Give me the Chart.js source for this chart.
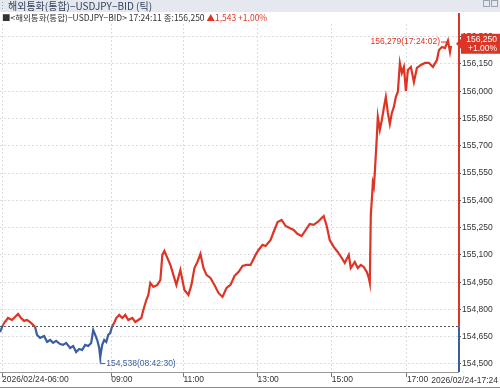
<!DOCTYPE html>
<html>
<head>
<meta charset="utf-8">
<script src="https://cdn.jsdelivr.net/npm/chart.js@4.4.1/dist/chart.umd.min.js"></script>
<style>
  html, body { margin: 0; padding: 0; background: #fff; }
  #wrap { width: 500px; height: 388px; position: relative; }
</style>
</head>
<body>
<div id="wrap"><canvas id="chart"></canvas></div>
<script>
// tick sequence number (x) and price
const tickNo = [0,3,5,8,12,15,18,21,24,27,30,33,35,37,40,44,47,50,53,56,60,63,66,70,73,76,79,82,85,88,91,93,95,97,99,100,102,104,106,108,110,112,114,116,119,122,125,128,132,135,138,141,143,146,148,150,153,157,160,162,164,167,170,173,176,180,184,188,191,194,197,200,203,206,210,214,218,222,226,230,234,238,242,246,250,255,258,262,265,270,273,277,281,285,289,293,297,301,305,309,313,317,321,323,326,329,333,337,341,344,348,350,354,357,360,363,366,368,369,370,371,372,373,374,376,377,379,381,383,385,387,389,391,393,395,397,399,401,403,405,407,410,413,416,420,424,428,432,436,438,441,444,447,449,450];
const prices = [154.676,154.715,154.731,154.753,154.742,154.759,154.775,154.753,154.737,154.742,154.731,154.715,154.704,154.660,154.643,154.654,154.621,154.632,154.616,154.627,154.610,154.605,154.616,154.588,154.599,154.566,154.583,154.577,154.605,154.599,154.616,154.687,154.660,154.632,154.588,154.538,154.605,154.632,154.621,154.660,154.671,154.709,154.726,154.753,154.770,154.753,154.770,154.742,154.753,154.731,154.742,154.753,154.797,154.852,154.880,154.946,154.924,154.935,154.962,155.100,155.122,155.083,155.045,154.990,154.935,155.017,154.907,154.880,154.935,155.028,155.061,155.105,155.028,154.990,154.973,154.935,154.891,154.869,154.918,154.935,154.984,155.006,155.039,155.045,155.045,155.100,155.127,155.155,155.149,155.182,155.226,155.281,155.292,155.259,155.248,155.237,155.215,155.204,155.237,155.270,155.265,155.281,155.303,155.314,155.259,155.182,155.144,155.116,155.083,155.056,155.100,155.028,155.061,155.028,155.045,155.034,155.006,154.973,154.946,155.320,155.402,155.496,155.474,155.551,155.749,155.859,155.787,155.842,155.908,155.969,155.881,155.820,155.881,155.914,155.969,155.996,156.156,156.101,156.134,156.002,156.117,156.134,156.051,156.128,156.145,156.156,156.156,156.134,156.172,156.227,156.244,156.238,156.279,156.216,156.250];

const basePrice = 154.707;   // previous close
const lastPrice = 156.250;
const change = '1,543';
const changePct = '+1.00%';
const highLabel = '156,279(17:24:02)';
const lowLabel = '154,538(08:42:30)';

const priceTicks = [154.5,154.65,154.8,154.95,155.1,155.25,155.4,155.55,155.7,155.85,156.0,156.15,156.3];
const timeTickNo = [2,111,183,257,331,406];
const timeLabels = ['2026/02/24-06:00','09:00','11:00','13:00','15:00','17:00'];
const endLabel = '2026/02/24-17:24';

const titleText = '해외통화(통합)−USDJPY−BID (틱)';
const infoText = '■<해외통화(통합)−USDJPY−BID> 17:24:11 종:156,250 ';

const RED = '#dd3525';
const BLUE = '#3a5e9f';
const numFont = '"Liberation Sans", sans-serif';
const krFont = '"Noto Sans CJK KR", sans-serif';

const fmt = v => v.toFixed(3).replace('.', ',');

const points = tickNo.map((x, i) => ({x: x, y: prices[i]}));

const deco = {
  id: 'deco',
  beforeDatasetsDraw(chart) {
    const {ctx, chartArea: a, scales: {y}} = chart;
    const by = Math.round(y.getPixelForValue(basePrice)) + 0.5;
    ctx.save();
    ctx.strokeStyle = '#555';
    ctx.lineWidth = 1;
    ctx.setLineDash([2, 2]);
    ctx.beginPath();
    ctx.moveTo(a.left, by);
    ctx.lineTo(a.right, by);
    ctx.stroke();
    ctx.restore();
  },
  afterDraw(chart) {
    const {ctx, chartArea: a, scales: {x, y}} = chart;
    ctx.save();

    // right axis line, red above previous close, blue below
    const by = y.getPixelForValue(basePrice);
    ctx.lineWidth = 2;
    ctx.strokeStyle = RED;
    ctx.beginPath(); ctx.moveTo(a.right + 1, 13); ctx.lineTo(a.right + 1, by); ctx.stroke();
    ctx.strokeStyle = BLUE;
    ctx.beginPath(); ctx.moveTo(a.right + 1, by); ctx.lineTo(a.right + 1, a.bottom); ctx.stroke();

    // high / low markers
    let hi = 0, lo = 0;
    prices.forEach((p, i) => { if (p > prices[hi]) hi = i; if (p < prices[lo]) lo = i; });
    const hx = x.getPixelForValue(tickNo[hi]), hy = y.getPixelForValue(prices[hi]);
    ctx.lineWidth = 1;
    ctx.strokeStyle = RED;
    ctx.beginPath(); ctx.moveTo(hx - 7, hy + 1.5); ctx.lineTo(hx, hy + 1.5); ctx.lineTo(hx, hy + 4); ctx.stroke();
    ctx.fillStyle = RED;
    ctx.font = '8.5px ' + numFont;
    ctx.textAlign = 'right';
    ctx.textBaseline = 'middle';
    ctx.fillText(highLabel, hx - 8, hy + 1.5);

    const lx = x.getPixelForValue(tickNo[lo]), ly = y.getPixelForValue(prices[lo]);
    ctx.strokeStyle = BLUE;
    ctx.beginPath(); ctx.moveTo(lx + 0.5, ly + 1); ctx.lineTo(lx + 0.5, ly + 6.5); ctx.lineTo(lx + 5, ly + 6.5); ctx.stroke();
    ctx.fillStyle = BLUE;
    ctx.textAlign = 'left';
    ctx.fillText(lowLabel, lx + 6, ly + 6.5);

    // last price box
    const py = y.getPixelForValue(lastPrice) - 2;
    ctx.fillStyle = RED;
    ctx.beginPath();
    ctx.moveTo(a.right - 2, py);
    ctx.lineTo(a.right + 3, py - 5);
    ctx.lineTo(a.right + 3, py - 10);
    ctx.lineTo(500, py - 10);
    ctx.lineTo(500, py + 10);
    ctx.lineTo(a.right + 3, py + 10);
    ctx.lineTo(a.right + 3, py + 5);
    ctx.closePath();
    ctx.fill();
    ctx.fillStyle = '#fff';
    ctx.font = '8.5px ' + numFont;
    ctx.textAlign = 'right';
    ctx.fillText(fmt(lastPrice), 497, py - 4.5);
    ctx.fillText(changePct, 497, py + 5);

    // end time label
    ctx.fillStyle = '#333';
    ctx.font = '8.5px ' + numFont;
    ctx.textAlign = 'right';
    ctx.textBaseline = 'top';
    ctx.fillText(endLabel, 498, a.bottom + 4);

    // bottom frame
    ctx.strokeStyle = '#888';
    ctx.lineWidth = 1;
    ctx.beginPath(); ctx.moveTo(0, 387.5); ctx.lineTo(500, 387.5); ctx.stroke();

    // header bar
    ctx.fillStyle = '#e5e9ef';
    ctx.fillRect(0, 0, 500, 12);
    ctx.fillStyle = '#9aa3b0';
    for (let i = 0; i < 3; i++) ctx.fillRect(2, 2 + i * 3, 1, 1);
    ctx.fillStyle = '#33415c';
    ctx.font = '10px ' + krFont;
    ctx.textAlign = 'left';
    ctx.textBaseline = 'middle';
    ctx.fillText(titleText, 8, 6.5);
    ctx.strokeStyle = '#9aa3b0';
    ctx.strokeRect(483.5, 0.5, 6, 6);
    ctx.strokeRect(491.5, 0.5, 6, 6);

    // info line
    ctx.fillStyle = '#fff';
    ctx.fillRect(0, 12, a.right, 11);
    ctx.fillStyle = '#333';
    ctx.font = '8.5px ' + krFont;
    ctx.fillText(infoText, 2, 17.5);
    const w = ctx.measureText(infoText).width;
    ctx.fillStyle = RED;
    ctx.fillText('▲' + change + ' ' + changePct, 2 + w, 17.5);

    ctx.restore();
  }
};

new Chart(document.getElementById('chart'), {
  type: 'line',
  data: {
    datasets: [{
      data: points,
      borderWidth: 2.2,
      pointRadius: 0,
      tension: 0,
      borderColor: RED,
      segment: {
        borderColor: c => ((c.p0.parsed.y + c.p1.parsed.y) / 2 >= basePrice ? RED : BLUE)
      }
    }]
  },
  options: {
    responsive: true,
    maintainAspectRatio: false,
    animation: false,
    layout: { padding: { top: 24, left: 0, right: 0, bottom: 0 } },
    plugins: { legend: { display: false }, tooltip: { enabled: false } },
    scales: {
      x: {
        type: 'linear',
        min: 0,
        max: 457,
        afterBuildTicks: s => { s.ticks = timeTickNo.map(v => ({value: v})); },
        afterFit: s => { s.height = 16; },
        grid: { color: '#dcdcdc', tickColor: '#777', tickLength: 5 },
        border: { display: true, color: '#999', dash: [2, 2] },
        ticks: {
          align: 'start',
          padding: -2,
          maxRotation: 0,
          autoSkip: false,
          color: '#333',
          font: { family: numFont, size: 8.5 },
          callback: (v, i) => timeLabels[i]
        }
      },
      y: {
        position: 'right',
        min: 154.456,
        max: 156.370,
        afterBuildTicks: s => { s.ticks = priceTicks.map(v => ({value: v})); },
        afterFit: s => { s.width = 42; },
        grid: { color: '#dcdcdc', tickColor: '#555', tickLength: 3 },
        border: { display: false, dash: [2, 2] },
        ticks: {
          padding: 1,
          color: '#333',
          font: { family: numFont, size: 8.5 },
          callback: v => fmt(v)
        }
      }
    }
  },
  plugins: [deco]
});
</script>
</body>
</html>
